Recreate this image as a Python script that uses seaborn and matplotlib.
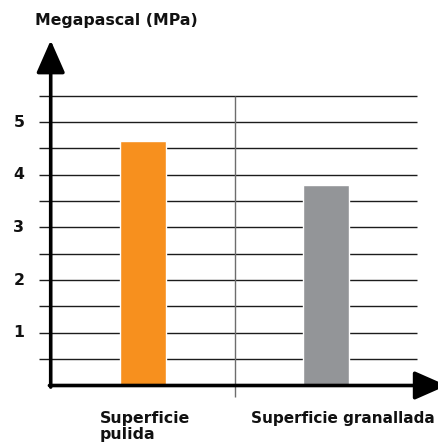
import matplotlib
matplotlib.use("Agg")
import matplotlib.pyplot as plt
import seaborn as sns
import numpy as np

sns.set_theme(style="white")
plt.rcParams['font.family'] = ['DejaVu Sans']

# data
categories = ["Superficie\npulida", "Superficie granallada"]
values = [4.64, 3.80]
bar_colors = ["#F7901E", "#939598"]
y_ticks = [1, 2, 3, 4, 5]
grid_levels = [0.5, 1, 1.5, 2, 2.5, 3, 3.5, 4, 4.5, 5, 5.5]
y_title = "Megapascal (MPa)"

fig = plt.figure(figsize=(4.39, 4.45), dpi=100)
ax = fig.add_axes([0, 0, 1, 1])

# grid lines behind the bars
ax.hlines(grid_levels, -0.57, 1.497, color="#1c1c1c", lw=1.0, zorder=0)
ax.vlines(0.5, -0.22, 5.5, color="#6d6d6d", lw=1.0, zorder=0)

sns.barplot(x=categories, y=values, hue=categories, palette=bar_colors,
            width=0.25, saturation=1, legend=False, ax=ax, zorder=2)

ax.set_xlim(-0.781, 1.617)
ax.set_ylim(-1.129, 7.315)
ax.axis("off")

x_axis_pos = -0.504
arrow = dict(arrowstyle="-|>,head_length=20,head_width=8.8", color="black",
             lw=2.6, shrinkA=0, shrinkB=0, mutation_scale=1)
# y axis with arrow
ax.annotate("", xy=(x_axis_pos, 6.55), xytext=(x_axis_pos, -0.03),
            arrowprops=arrow, zorder=5, annotation_clip=False)
# x axis with arrow
ax.annotate("", xy=(1.66, 0), xytext=(x_axis_pos - 0.007, 0),
            arrowprops=arrow, zorder=5, annotation_clip=False)

font = dict(fontweight="bold", color="#111111")
for t in y_ticks:
    ax.text(-0.678, t, str(t), ha="center", va="center", fontsize=11.3, **font)

ax.text(-0.145, 6.92, y_title, ha="center", va="center", fontsize=11.3, **font)

label_x = [-0.235, 0.590]
label_size = [11.3, 11.0]
for xpos, lab, fs in zip(label_x, categories, label_size):
    ax.text(xpos, -0.49, lab, ha="left", va="top", fontsize=fs,
            linespacing=1.05, **font)

fig.savefig("out.png", dpi=100)
